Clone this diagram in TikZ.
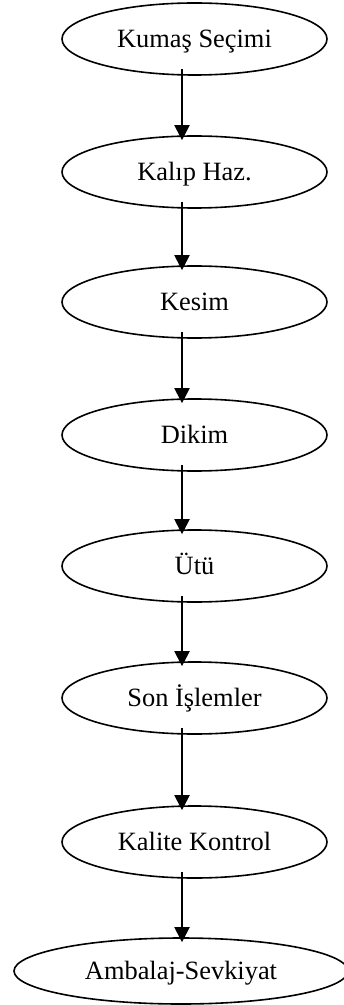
\documentclass[tikz,border=0pt]{standalone}
\usepackage{fontspec}
\setmainfont{Liberation Serif}
\usetikzlibrary{shapes.geometric,arrows.meta}
\begin{document}
\begin{tikzpicture}[x=0.5pt,y=-0.5pt,
        adim/.style={ellipse,draw,line width=0.8pt,minimum width=132.5pt,minimum height=36pt,inner sep=0pt,text height=8.7pt,text depth=0pt,font=\fontsize{13.2}{15}\selectfont},
        ok/.style={-{Triangle[length=7.5pt,width=7.5pt]},line width=1pt}]
        \useasboundingbox (0,0) rectangle (343,1005);

        % Uretim adimlari
        \node[adim] (kumas) at (194.5,39) {Kumaş Seçimi};
        \node[adim] (kalip) at (194.5,172) {Kalıp Haz.};
        \node[adim] (kesim) at (194.5,302) {Kesim};
        \node[adim] (dikim) at (194.5,435) {Dikim};
        \node[adim] (utu) at (194.5,566) {Ütü};
        \node[adim] (son) at (194.5,698) {Son İşlemler};
        \node[adim] (kalite) at (194.5,842) {Kalite Kontrol};
        \node[adim,minimum width=167pt,minimum height=33pt] (ambalaj) at (181,971) {Ambalaj-Sevkiyat};

        % Oklar
        \coordinate (okx) at (182,0);
        \foreach \a/\b in {kumas/kalip,kalip/kesim,kesim/dikim,dikim/utu,utu/son,son/kalite,kalite/ambalaj} {
            \draw[ok] ([yshift=3.5pt]\a.south -| okx) -- ([yshift=-2.5pt]\b.north -| okx);
        }
\end{tikzpicture}
\end{document}
